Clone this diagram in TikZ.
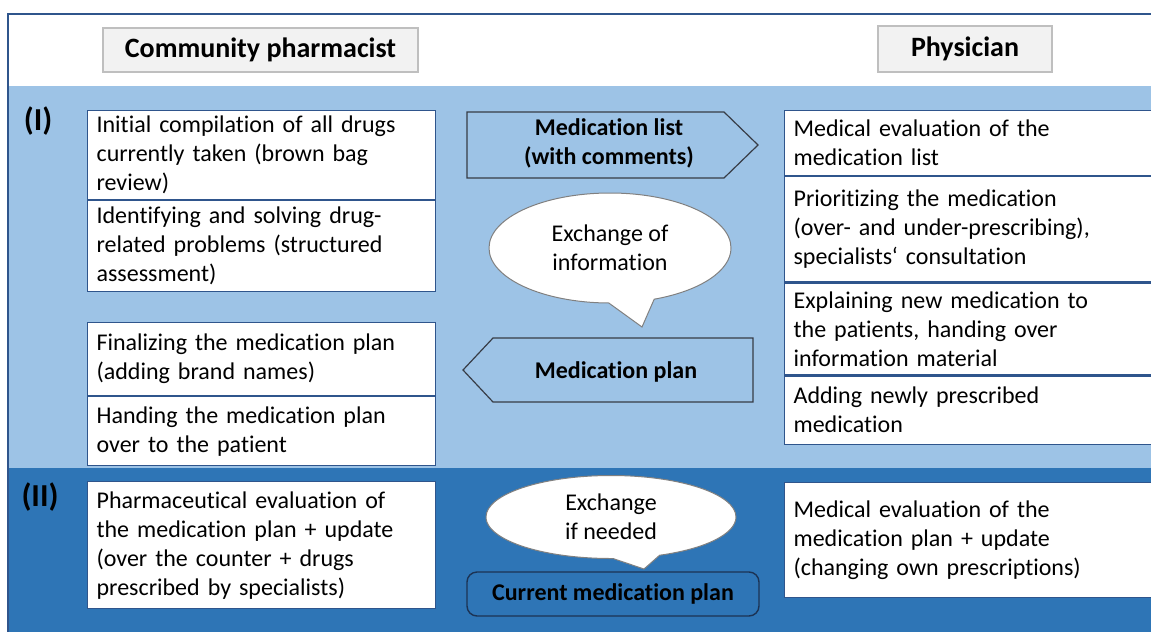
\documentclass[tikz,border=0pt]{standalone}
\usepackage{fontspec}
\setmainfont{Carlito}[Ligatures=NoCommon]
\usetikzlibrary{positioning,shapes.callouts}

\definecolor{lightband}{RGB}{157,195,230}
\definecolor{darkband}{RGB}{46,117,182}
\definecolor{boxline}{RGB}{47,85,140}
\definecolor{headfill}{RGB}{242,242,242}
\definecolor{headline}{RGB}{191,191,191}
\definecolor{arrowline}{RGB}{55,60,70}

\tikzset{
	taskbox/.style={draw=boxline,line width=0.6pt,fill=white,rectangle,anchor=north west,align=left,inner xsep=4.5pt,inner ysep=1pt,font=\fontsize{12}{14.5}\selectfont},
	lefttask/.style={taskbox,text width=165pt,minimum width=174pt},
	righttask/.style={taskbox,text width=184pt,minimum width=193pt},
	rolebox/.style={draw=headline,line width=1pt,fill=headfill,font=\fontsize{14}{16}\selectfont\bfseries},
	bubble/.style={ellipse callout,draw=black!50,fill=white,line width=0.5pt,inner sep=1pt,align=center,callout pointer arc=22,font=\fontsize{12}{14.5}\selectfont},
	flowtext/.style={align=center,font=\fontsize{12}{14.5}\selectfont\bfseries},
	phase/.style={font=\fontsize{16}{18}\selectfont\bfseries}
}

\begin{document}
\begin{tikzpicture}[x=0.5pt,y=-0.5pt]
		\clip (0,0) rectangle (1151,632);
		\fill[white] (0,0) rectangle (1151,632);
		\fill[lightband] (8,86) rectangle (1151,468);
		\fill[darkband] (8,468) rectangle (1151,632);
		\draw[boxline,line width=1pt] (1151,14) -- (8,14) -- (8,632);

		\node [rolebox,minimum width=157.5pt,minimum height=22pt] (pharmacist) at (260.5,50) {Community pharmacist};
		\node [rolebox,minimum width=87pt,minimum height=23pt] (physician) at (965,49) {Physician};

		\node [phase] (phaseone) at (38,121) {(I)};
		\node [phase] (phasetwo) at (40,497) {(II)};

		\node [lefttask,minimum height=44.5pt] (compile) at (87,110) {Initial compilation of all drugs\\currently taken (brown bag\\review)};
		\node [lefttask,minimum height=45.5pt,below=0pt of compile] (problems) {Identifying and solving drug-\\related problems (structured\\assessment)};
		\node [lefttask,minimum height=36.5pt] (finalize) at (87,322) {Finalizing the medication plan\\(adding brand names)};
		\node [lefttask,minimum height=34.5pt,below=0pt of finalize] (handover) {Handing the medication plan\\over to the patient};
		\node [lefttask,minimum height=63.5pt] (pharmeval) at (87,481) {Pharmaceutical evaluation of\\the medication plan + update\\(over the counter + drugs\\prescribed by specialists)};

		\node [righttask,minimum height=32.5pt] (medeval) at (784,110) {Medical evaluation of the\\medication list};
		\node [righttask,minimum height=52.5pt,below=0pt of medeval] (prioritize) {Prioritizing the medication\\(over- and under-prescribing),\\specialists‘ consultation};
		\node [righttask,minimum height=46pt,below=0pt of prioritize] (explain) {Explaining new medication to\\the patients, handing over\\information material};
		\node [righttask,minimum height=34pt,below=0pt of explain] (addnew) {Adding newly prescribed\\medication};
		\node [righttask,minimum height=57.5pt] (planeval) at (784,482) {Medical evaluation of the\\medication plan + update\\(changing own prescriptions)};

		\draw[arrowline,fill=lightband,line width=0.6pt] (467,112) -- (724,112) -- (758,145) -- (724,178) -- (467,178) -- cycle;
		\node [flowtext] (medlist) at (609,143) {Medication list\\(with comments)};
		\draw[arrowline,fill=lightband,line width=0.6pt] (753,338) -- (493,338) -- (463,370) -- (493,402) -- (753,402) -- cycle;
		\node [flowtext] (medplan) at (616,372) {Medication plan};

		\node [bubble,minimum width=121pt,minimum height=55pt,callout absolute pointer={(642,327)}] (talk) at (610,248) {Exchange of\\information};
		\node [bubble,minimum width=125pt,minimum height=41.5pt,callout absolute pointer={(644,569)}] (talkneed) at (611,517) {Exchange\\if needed};

		\node [flowtext,draw=boxline!60!black,line width=0.7pt,fill=darkband,rounded corners=5pt,minimum width=146pt,minimum height=22pt] (current) at (613,594) {Current medication plan};
	\end{tikzpicture}
\end{document}
